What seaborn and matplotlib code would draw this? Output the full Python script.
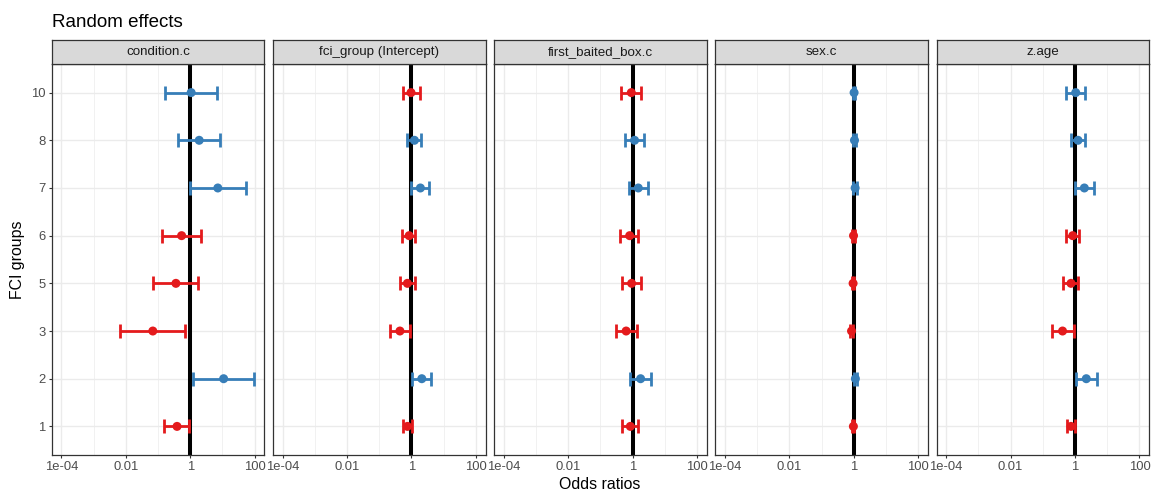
import numpy as np
import pandas as pd
import matplotlib
matplotlib.use("Agg")
import matplotlib.pyplot as plt
from matplotlib.ticker import FixedLocator, FixedFormatter
import seaborn as sns

# ---------------- data ----------------
groups = ["1", "2", "3", "5", "6", "7", "8", "10"]
panels = ["condition.c", "fci_group (Intercept)", "first_baited_box.c", "sex.c", "z.age"]

cond_est = [0.39, 10.9, 0.069, 0.36, 0.54, 7.2, 1.9, 1.07]
cond_lo = [0.155, 1.2, 0.0068, 0.071, 0.13, 1.0, 0.42, 0.16]
cond_hi = [0.95, 93.0, 0.70, 1.7, 2.2, 54.0, 8.4, 6.8]

fci_est = [0.75, 2.1, 0.44, 0.75, 0.85, 1.9, 1.24, 0.97]
fci_lo = [0.55, 1.07, 0.21, 0.44, 0.51, 1.0, 0.75, 0.55]
fci_hi = [1.05, 4.2, 0.93, 1.27, 1.3, 3.6, 2.0, 1.9]

fbb_est = [0.85, 1.77, 0.63, 0.93, 0.81, 1.5, 1.15, 0.91]
fbb_lo = [0.47, 0.85, 0.30, 0.47, 0.41, 0.75, 0.60, 0.43]
fbb_hi = [1.5, 3.6, 1.36, 1.8, 1.5, 3.1, 2.25, 1.8]

sex_est = [0.97, 1.12, 0.85, 0.95, 0.98, 1.10, 1.05, 1.02]
sex_lo = [0.90, 1.00, 0.78, 0.87, 0.90, 0.97, 0.95, 0.93]
sex_hi = [1.05, 1.25, 0.95, 1.05, 1.07, 1.25, 1.15, 1.12]

age_est = [0.75, 2.24, 0.41, 0.75, 0.85, 1.95, 1.24, 1.05]
age_lo = [0.55, 1.05, 0.19, 0.42, 0.51, 1.0, 0.73, 0.53]
age_hi = [1.0, 4.7, 0.91, 1.27, 1.36, 3.9, 2.1, 2.0]

x_breaks = [1e-4, 1e-2, 1, 100]
x_labels = ["1e-04", "0.01", "1", "100"]
x_minor = [1e-3, 1e-1, 10]

series = {
    panels[0]: (cond_est, cond_lo, cond_hi),
    panels[1]: (fci_est, fci_lo, fci_hi),
    panels[2]: (fbb_est, fbb_lo, fbb_hi),
    panels[3]: (sex_est, sex_lo, sex_hi),
    panels[4]: (age_est, age_lo, age_hi),
}

rows = []
for p in panels:
    e, lo, hi = series[p]
    for g, ee, ll, hh in zip(groups, e, lo, hi):
        rows.append(dict(panel=p, group=g, est=ee, lo=ll, hi=hh))
df = pd.DataFrame(rows)
df["ypos"] = df["group"].map({g: i for i, g in enumerate(groups)})
df["dir"] = np.where(df["est"] > 1, "pos", "neg")

palette = {"pos": "#377EB8", "neg": "#E41A1C"}

# ---------------- figure ----------------
sns.set_theme(style="white")
plt.rcParams["font.family"] = ["Liberation Sans", "DejaVu Sans"]

W, H = 1154, 493
fig = plt.figure(figsize=(W / 100, H / 100), dpi=100)

ax_left0 = 51.7
ax_w = 212.6
gap = 8.6
ax_top = 64.0
ax_bot = 455.0
strip_top = 40.0

for i, p in enumerate(panels):
    left = ax_left0 + i * (ax_w + gap)
    ax = fig.add_axes([left / W, 1 - ax_bot / H, ax_w / W, (ax_bot - ax_top) / H])
    ax.set_xscale("log")
    ax.set_xlim(10 ** -4.3, 10 ** 2.3)
    ax.set_ylim(-0.6, len(groups) - 1 + 0.6)
    ax.set_facecolor("white")

    # grid
    ax.xaxis.set_major_locator(FixedLocator(x_breaks))
    ax.xaxis.set_major_formatter(FixedFormatter(x_labels))
    ax.xaxis.set_minor_locator(FixedLocator(x_minor))
    ax.xaxis.set_minor_formatter(FixedFormatter([""] * len(x_minor)))
    ax.set_yticks(range(len(groups)))
    ax.grid(True, which="major", color="#EBEBEB", linewidth=1.0, zorder=0)
    ax.grid(True, which="minor", axis="x", color="#EBEBEB", linewidth=0.5, zorder=0)
    ax.set_axisbelow(True)

    sub = df[df["panel"] == p]
    ax.axvline(1, color="black", linewidth=2.9, zorder=2)

    for _, r in sub.iterrows():
        ax.errorbar(r["est"], r["ypos"],
                    xerr=[[r["est"] - r["lo"]], [r["hi"] - r["est"]]],
                    fmt="none", ecolor=palette[r["dir"]], elinewidth=2.0,
                    capsize=5.0, capthick=2.0, zorder=3)
    sns.scatterplot(data=sub, x="est", y="ypos", hue="dir", palette=palette,
                    s=42, edgecolor="none", legend=False, ax=ax, zorder=4)

    ax.set_xlabel("")
    ax.set_ylabel("")
    for sp in ax.spines.values():
        sp.set_color("#333333")
        sp.set_linewidth(0.9)
    ax.tick_params(axis="x", which="major", length=2.5, width=0.8, color="#333333",
                   labelsize=9.4, labelcolor="#4D4D4D", pad=2, bottom=True)
    ax.tick_params(axis="x", which="minor", length=0)
    if i == 0:
        ax.set_yticklabels(groups)
        ax.tick_params(axis="y", length=2.5, width=0.8, color="#333333",
                       labelsize=9.4, labelcolor="#4D4D4D", pad=2, left=True)
    else:
        ax.set_yticklabels([])
        ax.tick_params(axis="y", length=0, left=False)

    # strip
    sax = fig.add_axes([left / W, 1 - ax_top / H, ax_w / W, (ax_top - strip_top) / H])
    sax.set_facecolor("#D9D9D9")
    sax.set_xticks([])
    sax.set_yticks([])
    for sp in sax.spines.values():
        sp.set_color("#333333")
        sp.set_linewidth(0.9)
    sax.text(0.5, 0.5, p, ha="center", va="center", fontsize=9.6, color="#1A1A1A",
             transform=sax.transAxes)

fig.text(51.7 / W, 1 - 27 / H, "Random effects", fontsize=13.5, color="black",
         ha="left", va="baseline")
fig.text(600 / W, 1 - 489 / H, "Odds ratios", fontsize=11.4, color="black",
         ha="center", va="baseline")
fig.text(18 / W, 1 - 259.5 / H, "FCI groups", fontsize=11.4, color="black",
         ha="center", va="center", rotation=90)

fig.savefig("out.png", dpi=100)
